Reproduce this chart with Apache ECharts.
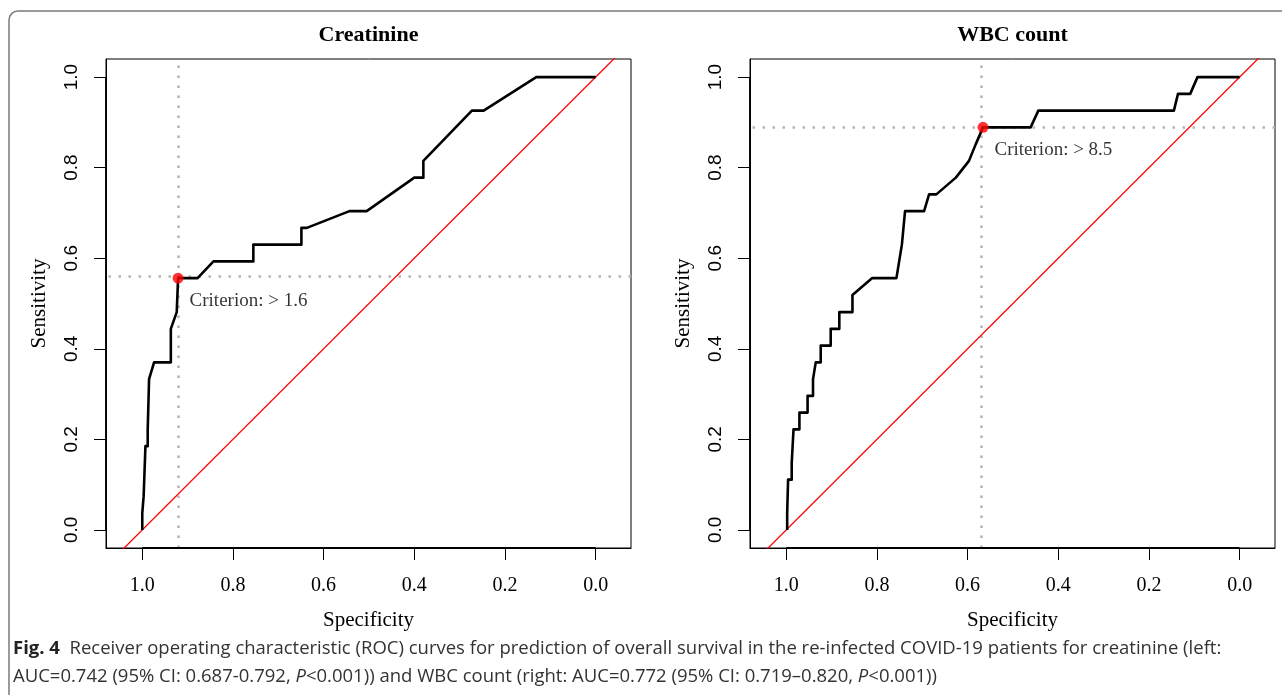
<!DOCTYPE html>
<html>
<head>
<meta charset="utf-8">
<script src="https://cdn.jsdelivr.net/npm/echarts@6/dist/echarts.min.js"></script>
<style>
  html, body { margin: 0; padding: 0; background: #fff; }
  #chart { width: 1282px; height: 695px; }
</style>
</head>
<body>
<div id="chart"></div>
<script>
// ---- data ----
const tickValues = [0, 0.2, 0.4, 0.6, 0.8, 1.0];
const tickLabels = ['0.0', '0.2', '0.4', '0.6', '0.8', '1.0'];
const panelTitles = ['Creatinine', 'WBC count'];

const creatSpec = [1.000,1.000,0.997,0.997,0.993,0.993,0.988,0.988,0.985,0.985,0.982,0.974,0.937,0.937,0.924,0.921,0.878,0.843,0.755,0.755,0.649,0.649,0.637,0.543,0.505,0.400,0.380,0.380,0.273,0.247,0.131,0.000];
const creatSens = [0.000,0.037,0.037,0.074,0.074,0.185,0.185,0.222,0.222,0.333,0.333,0.370,0.370,0.444,0.481,0.556,0.556,0.593,0.593,0.630,0.630,0.667,0.667,0.704,0.704,0.778,0.778,0.815,0.926,0.926,1.000,1.000];

const wbcSpec = [0.998,0.998,0.996,0.996,0.988,0.988,0.984,0.984,0.971,0.971,0.953,0.953,0.941,0.941,0.935,0.924,0.924,0.902,0.902,0.883,0.883,0.854,0.854,0.811,0.757,0.745,0.738,0.696,0.685,0.669,0.626,0.597,0.582,0.566,0.461,0.444,0.145,0.136,0.109,0.093,0.000];
const wbcSens = [0.000,0.037,0.037,0.111,0.111,0.148,0.148,0.222,0.222,0.259,0.259,0.296,0.296,0.333,0.370,0.370,0.407,0.407,0.444,0.444,0.481,0.481,0.519,0.556,0.556,0.630,0.704,0.704,0.741,0.741,0.778,0.815,0.852,0.889,0.889,0.926,0.926,0.963,0.963,1.000,1.000];

const thresholdSpec = [0.921, 0.566];
const thresholdSens = [0.556, 0.889];
const criterionLabels = ['Criterion: > 1.6', 'Criterion: > 8.5'];

// axis extents (R-style padding around 0..1)
const X_MIN = -0.078, X_MAX = 1.080;
const Y_MIN = -0.040, Y_MAX = 1.040;

const SERIF = '"Liberation Serif", "Times New Roman", serif';
const SANS = '"Liberation Sans", Arial, sans-serif';
const CAPTION_FONT = '"Open Sans", "Noto Sans", sans-serif';

const curves = [
  creatSpec.map((s, i) => [s, creatSens[i]]),
  wbcSpec.map((s, i) => [s, wbcSens[i]])
];

const gridLefts = [106, 750];
const grids = gridLefts.map(l => ({
  left: l, top: 59, width: 525, height: 489,
  show: true, borderColor: '#000', borderWidth: 1, backgroundColor: 'transparent'
}));

const fmtTick = v => tickLabels[tickValues.findIndex(t => Math.abs(t - v) < 1e-9)];

const xAxes = [0, 1].map(i => ({
  type: 'value', gridIndex: i, inverse: true, min: X_MIN, max: X_MAX,
  axisLine: { show: true, onZero: false, lineStyle: { color: '#000', width: 1 } },
  axisTick: { show: true, length: 12, inside: false, customValues: tickValues, lineStyle: { color: '#000', width: 1 } },
  axisLabel: {
    customValues: tickValues, formatter: fmtTick,
    fontFamily: SERIF, fontSize: 20, color: '#000', margin: 28
  },
  splitLine: { show: false },
  name: 'Specificity', nameLocation: 'middle', nameGap: 62,
  nameTextStyle: { fontFamily: SERIF, fontSize: 21, color: '#000' }
}));

const yAxes = [0, 1].map(i => ({
  type: 'value', gridIndex: i, min: Y_MIN, max: Y_MAX,
  axisLine: { show: true, onZero: false, lineStyle: { color: '#000', width: 1 } },
  axisTick: { show: true, length: 12, inside: false, customValues: tickValues, lineStyle: { color: '#000', width: 1 } },
  axisLabel: {
    customValues: tickValues, rotate: 90, formatter: fmtTick,
    fontFamily: SANS, fontSize: 19, color: '#000', margin: 25
  },
  splitLine: { show: false },
  name: 'Sensitivity', nameLocation: 'middle', nameGap: 56,
  nameTextStyle: { fontFamily: SERIF, fontSize: 21, color: '#000' }
}));

const tMin = tickValues[0], tMax = tickValues[tickValues.length - 1];
const series = [];
[0, 1].forEach(i => {
  // R-style axis segments spanning first..last tick (slightly heavier than the box)
  series.push({
    type: 'line', xAxisIndex: i, yAxisIndex: i, clip: false, silent: true,
    data: [[tMax, Y_MIN], [tMin, Y_MIN]], showSymbol: false, symbol: 'none',
    lineStyle: { color: '#000', width: 1.8 }, z: 6
  });
  series.push({
    type: 'line', xAxisIndex: i, yAxisIndex: i, clip: false, silent: true,
    data: [[X_MAX, tMin], [X_MAX, tMax]], showSymbol: false, symbol: 'none',
    lineStyle: { color: '#000', width: 1.8 }, z: 6
  });
  // diagonal reference line (sensitivity = 1 - specificity), clipped to plot
  series.push({
    type: 'line', xAxisIndex: i, yAxisIndex: i, clip: true, silent: true,
    data: [[X_MAX + 0.1, 1 - (X_MAX + 0.1)], [X_MIN - 0.1, 1 - (X_MIN - 0.1)]],
    showSymbol: false, symbol: 'none',
    lineStyle: { color: '#ff0000', width: 1.3 }, z: 3
  });
  // ROC curve with dotted threshold guides
  series.push({
    type: 'line', xAxisIndex: i, yAxisIndex: i, clip: true, silent: true,
    data: curves[i], showSymbol: false, symbol: 'none',
    lineStyle: { color: '#000', width: 2.6, join: 'round' }, z: 4,
    markLine: {
      silent: true, symbol: 'none', label: { show: false }, z: 2,
      lineStyle: { color: '#b4b4b4', width: 2.5, type: [2.5, 7.5] },
      data: [{ xAxis: thresholdSpec[i] }, { yAxis: thresholdSens[i] }]
    }
  });
  // threshold point
  series.push({
    type: 'scatter', xAxisIndex: i, yAxisIndex: i, silent: true,
    data: [[thresholdSpec[i], thresholdSens[i]]],
    symbol: 'circle', symbolSize: 11, itemStyle: { color: '#ff0000' }, z: 5,
    label: {
      show: true, formatter: criterionLabels[i], position: [17, 28],
      align: 'left', verticalAlign: 'middle',
      fontFamily: SERIF, fontSize: 19, color: '#000'
    }
  });
});

const graphic = [
  {
    type: 'rect', silent: true, z: 0,
    shape: { x: 9, y: 11, width: 1320, height: 740, r: 9 },
    style: { fill: 'none', stroke: '#7a7a7a', lineWidth: 1.5 }
  },
  ...panelTitles.map((t, i) => ({
    type: 'text', silent: true,
    x: gridLefts[i] + 262.5, y: 35,
    style: { text: t, align: 'center', verticalAlign: 'middle', font: 'bold 22px ' + SERIF, fill: '#000' }
  })),
  {
    type: 'text', silent: true, x: 13, y: 649,
    style: {
      text: '{b|Fig. 4}  Receiver operating characteristic (ROC) curves for prediction of overall survival in the re-infected COVID-19 patients for creatinine (left:',
      verticalAlign: 'middle', fontFamily: CAPTION_FONT, fontSize: 18.5, fill: '#333',
      rich: { b: { fontWeight: 'bold', fontFamily: CAPTION_FONT, fontSize: 18.5, fill: '#222', color: '#222' } }
    }
  },
  {
    type: 'text', silent: true, x: 13, y: 677,
    style: {
      text: 'AUC=0.742 (95% CI: 0.687-0.792, {i|P}<0.001)) and WBC count (right: AUC=0.772 (95% CI: 0.719–0.820, {i|P}<0.001))',
      verticalAlign: 'middle', fontFamily: CAPTION_FONT, fontSize: 18.5, fill: '#333',
      rich: { i: { fontStyle: 'italic', fontFamily: CAPTION_FONT, fontSize: 18.5, fill: '#333', color: '#333' } }
    }
  }
];

const chart = echarts.init(document.getElementById('chart'), null, { renderer: 'canvas' });
chart.setOption({
  animation: false,
  backgroundColor: '#fff',
  grid: grids,
  xAxis: xAxes,
  yAxis: yAxes,
  series: series,
  graphic: graphic
});
</script>
</body>
</html>
